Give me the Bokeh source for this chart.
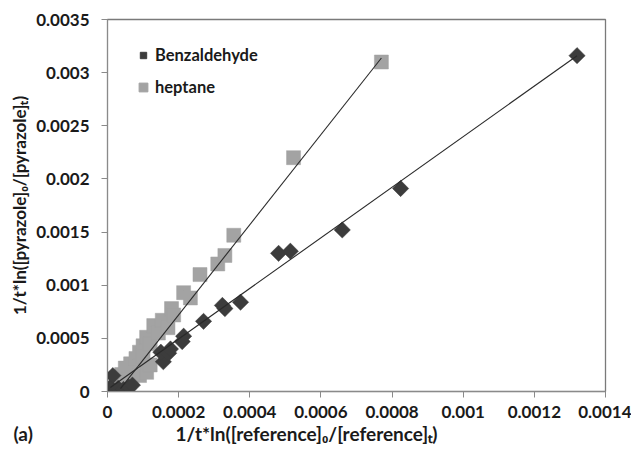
import math
from bokeh.plotting import figure
from bokeh.models import Legend, LegendItem, FixedTicker, Range1d, Title
from bokeh.embed import file_html
from bokeh.resources import INLINE

# ---- data ----
benz_x = [0.000008, 0.000015, 0.00003, 0.000045, 0.00006, 0.00007,
          0.000157, 0.00015, 0.000172, 0.000177, 0.00021, 0.000214,
          0.00027, 0.000323, 0.00033, 0.000374, 0.000481, 0.000514,
          0.00066, 0.000824, 0.00132]
benz_y = [0.00004, 0.00015, 0.00003, 0.00002, 0.00004, 0.00006,
          0.00028, 0.00037, 0.00036, 0.0004, 0.00047, 0.00052,
          0.00066, 0.00081, 0.00078, 0.00084, 0.0013, 0.00132,
          0.00152, 0.00191, 0.00316]

hept_x = [0.0000365, 0.00004, 0.00005, 0.00006, 0.000065, 0.00008,
          0.00009, 0.00009, 0.0001, 0.0001, 0.00011, 0.00011, 0.00012,
          0.00012, 0.00013, 0.000143, 0.000154, 0.00017, 0.00018,
          0.000186, 0.000214, 0.000233, 0.00026, 0.00031, 0.00033,
          0.000355, 0.000523, 0.00077]
hept_y = [0.00009, 0.00016, 0.00022, 0.00012, 0.00026, 0.00031,
          0.00037, 0.00015, 0.00043, 0.00033, 0.00018, 0.00051, 0.00045,
          0.00025, 0.00062, 0.00055, 0.00067, 0.0006, 0.00078,
          0.00072, 0.00093, 0.00088, 0.0011, 0.0012, 0.00128,
          0.00147, 0.0022, 0.0031]

benz_fit = (2.38, 0.000018)     # slope, intercept of the trend line
hept_fit = (4.24, -0.000127)

x_ticks = [0, 0.0002, 0.0004, 0.0006, 0.0008, 0.001, 0.0012, 0.0014]
x_tick_labels = ["0", "0.0002", "0.0004", "0.0006", "0.0008", "0.001", "0.0012", "0.0014"]
y_ticks = [0, 0.0005, 0.001, 0.0015, 0.002, 0.0025, 0.003, 0.0035]
y_tick_labels = ["0", "0.0005", "0.001", "0.0015", "0.002", "0.0025", "0.003", "0.0035"]

series_names = ["Benzaldehyde", "heptane"]
x_title = "1/t*ln([reference]\u2080/[reference]\u209c)"
y_title = "1/t*ln([pyrazole]\u2080/[pyrazole]\u209c)"
panel_tag = "(a)"

FONT = "Lato"
DARK = "#3c3c3c"
GREY = "#a3a3a3"
TXT = "#1a1a1a"
NAN = float("nan")

p = figure(width=631, height=451, output_backend="svg", toolbar_location=None,
           x_range=Range1d(0, 0.0014), y_range=Range1d(0, 0.0035),
           min_border_left=107, min_border_right=26, min_border_top=19,
           min_border_bottom=60)
p.grid.visible = False
p.outline_line_color = "#7a7a7a"
p.outline_line_width = 1.3
p.background_fill_color = "white"
p.border_fill_color = "white"

def line_pts(xs, fit):
    x0, x1 = min(xs), max(xs)
    return [x0, x1], [fit[0] * x0 + fit[1], fit[0] * x1 + fit[1]]

hx, hy = line_pts(hept_x, hept_fit)
bx, by = line_pts(benz_x, benz_fit)

p.scatter(hept_x, hept_y, marker="square", size=14, fill_color=GREY,
          line_color=GREY, line_width=0.5)
p.scatter(benz_x, benz_y, marker="square", angle=math.pi / 4, size=11.5,
          fill_color=DARK, line_color=DARK, line_width=0.5)
p.line(hx, hy, line_color="#2a2a2a", line_width=1.1)
p.line(bx, by, line_color="#2a2a2a", line_width=1.1)

# legend proxies (not drawn in the plot: NaN position)
lg_b = p.scatter([NAN], [NAN], marker="square", angle=math.pi / 4,
                 fill_color=DARK, line_color=DARK)
lg_h = p.scatter([NAN], [NAN], marker="square", fill_color=GREY, line_color=GREY)

common = dict(margin=0, padding=0, border_line_color=None,
              background_fill_alpha=0, label_text_font=FONT,
              label_text_font_style="bold", label_text_font_size="16.5px",
              label_text_color=TXT, label_height=20)
leg1 = Legend(items=[LegendItem(label=series_names[0], renderers=[lg_b])],
              location=(28, 326), glyph_width=16, glyph_height=20,
              label_standoff=4, **common)
leg2 = Legend(items=[LegendItem(label=series_names[1], renderers=[lg_h])],
              location=(25, 293), glyph_width=22, glyph_height=22,
              label_standoff=1, **common)
p.add_layout(leg1)
p.add_layout(leg2)

for ax, ticks, labels in ((p.xaxis[0], x_ticks, x_tick_labels),
                          (p.yaxis[0], y_ticks, y_tick_labels)):
    ax.ticker = FixedTicker(ticks=ticks)
    ax.major_label_overrides = {t: l for t, l in zip(ticks, labels)}
    ax.minor_tick_line_color = None
    ax.major_tick_in = 0
    ax.major_tick_out = 6
    ax.axis_line_color = "#8a8a8a"
    ax.major_tick_line_color = "#8a8a8a"
    ax.major_label_text_font = FONT
    ax.major_label_text_font_style = "bold"
    ax.major_label_text_font_size = "17px"
    ax.major_label_text_color = TXT

p.yaxis.axis_label = y_title
p.yaxis.axis_label_text_font = FONT
p.yaxis.axis_label_text_font_style = "bold"
p.yaxis.axis_label_text_color = TXT
p.yaxis.axis_label_text_font_size = "17px"
p.xaxis.major_label_standoff = 8
p.yaxis.major_label_standoff = 12
p.yaxis.axis_label_standoff = 3

# bottom row: panel tag "(a)" at the far left and the x-axis title,
# drawn as one title below the x axis (em spaces set the gap)
bottom_text = panel_tag + "\u2003" * 10 + x_title
bottom = Title(text=bottom_text, align="left", offset=-94, standoff=0,
               vertical_align="middle", text_font=FONT,
               text_font_style="bold", text_font_size="19px",
               text_color=TXT)
p.add_layout(bottom, "below")

open("out.html", "w").write(file_html(p, INLINE))
